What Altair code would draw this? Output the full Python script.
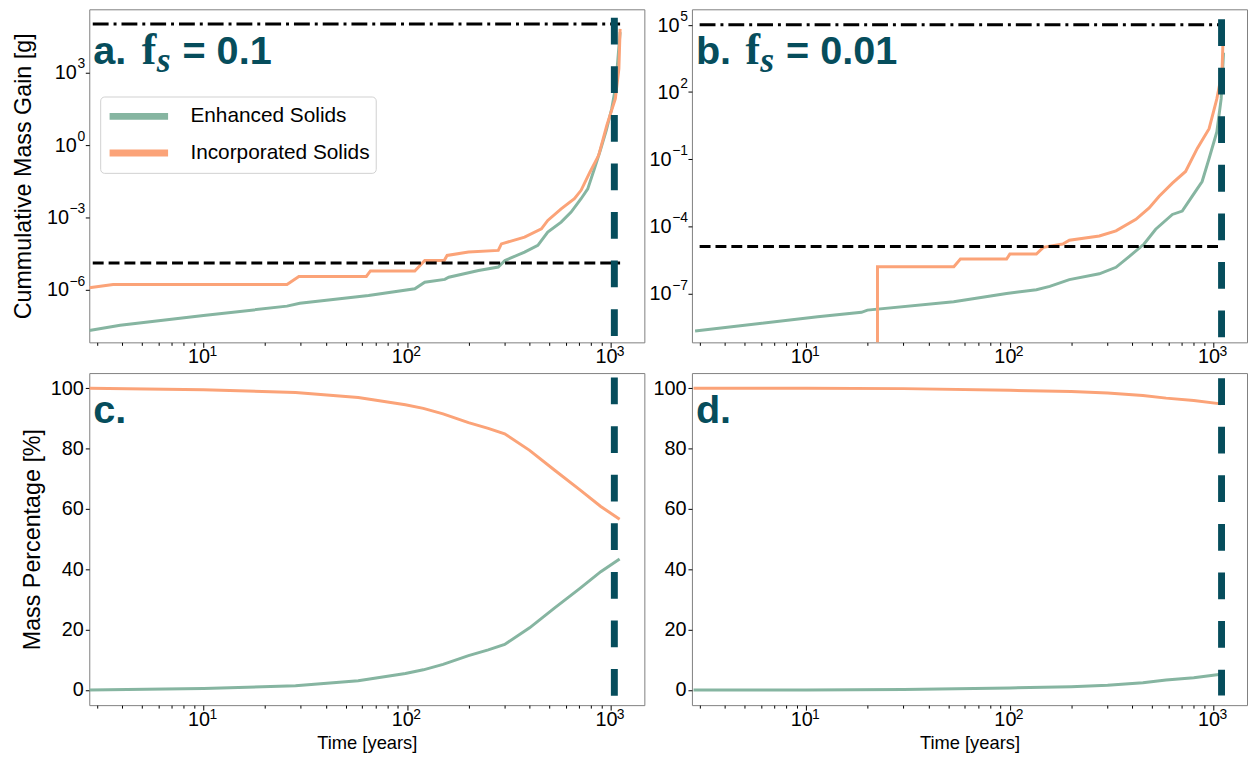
import altair as alt
import pandas as pd

SERIES = ["Enhanced Solids", "Incorporated Solids"]
COLORS = ["#86b5a1", "#fba378"]
ACCENT = "#064d5c"

PANEL_LETTERS = ["a.", "b.", "c.", "d."]
FS_SYMBOL = ["f", "s"]
FS_VALUES = ["= 0.1", "= 0.01"]

# tick positions and labels (base 10, superscript exponent)
TIME_MAJOR = [10, 100, 1000]
TIME_EXPONENTS = ["1", "2", "3"]
TIME_MINOR = [3, 4, 5, 6, 7, 8, 9, 20, 30, 40, 50, 60, 70, 80, 90,
              200, 300, 400, 500, 600, 700, 800, 900]
TIME_DOMAIN = [2.75, 1460]

MASS_A_TICKS = [1e3, 1e0, 1e-3, 1e-6]
MASS_A_EXPONENTS = ["3", "0", "−3", "−6"]
MASS_A_DOMAIN_EXP = [-8.19, 5.61]
MASS_B_TICKS = [1e5, 1e2, 1e-1, 1e-4, 1e-7]
MASS_B_EXPONENTS = ["5", "2", "−1", "−4", "−7"]
MASS_B_DOMAIN_EXP = [-9.18, 5.69]
PCT_TICKS = [0, 20, 40, 60, 80, 100]
PCT_DOMAIN = [-5, 105]

MASS_CEILING = 1e5
MASS_THRESHOLD = 1.25e-5

# panel a (f_s = 0.1): cumulative mass gain, log10 of grams
A_ENH_T = [2.75, 3.9, 10, 25.7, 29.7, 64.6, 109, 122, 153, 160, 224, 280, 302,
           377, 438, 490, 570, 638, 714, 770, 830, 890, 950, 1010, 1055, 1110]
A_ENH_LOGM = [-7.70, -7.48, -7.08, -6.69, -6.57, -6.25, -5.97, -5.70, -5.58, -5.49,
              -5.21, -5.07, -4.80, -4.45, -4.17, -3.62, -3.21, -2.79, -2.24, -1.83,
              -1.0, -0.2, 0.6, 1.5, 2.4, 4.66]
A_INC_T = [2.75, 3.6, 25.7, 29.4, 63, 66, 109, 122, 152, 157, 200, 280, 290,
           377, 456, 490, 570, 662, 714, 790, 871, 955, 1052, 1095, 1110]
A_INC_LOGM = [-5.93, -5.79, -5.79, -5.46, -5.46, -5.23, -5.23, -4.80, -4.80, -4.59,
              -4.45, -4.38, -4.11, -3.83, -3.49, -3.14, -2.66, -2.24, -1.89, -1.13,
              -0.44, 0.80, 1.91, 3.15, 4.80]

# panel b (f_s = 0.01)
B_ENH_T = [2.85, 11.4, 18.7, 20, 53, 96.4, 135, 157, 196, 275, 332, 385, 456,
           520, 628, 702, 785, 879, 951, 1038, 1090, 1120]
B_ENH_LOGM = [-8.67, -8.04, -7.84, -7.74, -7.37, -7.0, -6.83, -6.68, -6.38, -6.12,
              -5.83, -5.35, -4.79, -4.13, -3.47, -3.32, -2.66, -2.0, -0.97, 0.21,
              1.69, 3.75]
# first value: effectively zero before the first incorporation event
B_INC_T = [22.4, 22.4, 53.1, 57.2, 96.4, 100, 135, 146, 182, 196, 275, 332, 416,
           483, 541, 628, 729, 832, 951, 1038, 1100, 1120]
B_INC_LOGM = [-12, -5.80, -5.80, -5.46, -5.46, -5.24, -5.24, -4.94, -4.79, -4.62,
              -4.43, -4.20, -3.69, -3.18, -2.66, -2.07, -1.55, -0.52, 0.36, 1.69,
              2.87, 5.0]

# panel c (f_s = 0.1): mass percentage
C_T = [2.75, 10, 28.3, 57.5, 98, 120, 150, 200, 250, 301, 399, 530, 705, 892, 1104]
C_INC_PCT = [100.0, 99.5, 98.6, 96.9, 94.5, 93.3, 91.5, 88.6, 86.7, 84.9, 79.4,
             72.8, 66.3, 60.8, 56.6]
C_ENH_PCT = [0.0, 0.5, 1.4, 3.1, 5.5, 6.7, 8.5, 11.4, 13.3, 15.1, 20.6,
             27.2, 33.7, 39.2, 43.4]

# panel d (f_s = 0.01)
D_T = [2.8, 10, 30, 100, 200, 302, 450, 585, 800, 1086]
D_INC_PCT = [100.0, 99.95, 99.85, 99.3, 98.9, 98.4, 97.6, 96.7, 95.9, 94.8]
D_ENH_PCT = [0.0, 0.05, 0.15, 0.7, 1.1, 1.6, 2.4, 3.3, 4.1, 5.2]

# reference lines
END_TIME = [1040, 1095]
A_VLINE_EXP = [5.26, -8.12]
B_VLINE_EXP = [5.25, -8.99]
C_VLINE_PCT = [103.5, -2.1]
D_VLINE_PCT = [103.3, -1.8]
A_HSPAN = [2.86, 1110]
B_HSPAN = [3.0, 1100]

W, H_TOP, H_BOT = 560, 336, 335
FONT = "Liberation Sans"
LABEL_SIZE = 20
SUP_SIZE = 14


def time_axis(title=None):
    kw = dict(
        values=sorted(TIME_MINOR + TIME_MAJOR),
        labels=False,
        tickSize={"condition": {"test": "indexof([10, 100, 1000], datum.value) >= 0", "value": 5},
                  "value": 3},
        title=title,
    )
    if title:
        kw.update(titleFontSize=18.5, titlePadding=23)
    return alt.Axis(**kw)


x_scale = alt.Scale(type="log", domain=TIME_DOMAIN, nice=False)


def curves_df(pairs):
    rows = []
    i = 0
    for name, ts, vs in pairs:
        for t, v in zip(ts, vs):
            rows.append({"t": t, "v": v, "series": name, "idx": i})
            i += 1
    return pd.DataFrame(rows)


def text_layer(txt, x, y, font=FONT, size=40, style="normal"):
    return alt.Chart(pd.DataFrame({"txt": [txt]})).mark_text(
        font=font, fontSize=size, fontWeight="bold", fontStyle=style, color=ACCENT,
        align="left", baseline="alphabetic"
    ).encode(text="txt:N", x=alt.value(x), y=alt.value(y))


def x_labels(X, height):
    df = pd.DataFrame({"t": TIME_MAJOR, "base": ["10"] * len(TIME_MAJOR), "exp": TIME_EXPONENTS})
    base = alt.Chart(df).mark_text(
        font=FONT, fontSize=LABEL_SIZE, align="center", baseline="alphabetic", dx=-4.5, color="black"
    ).encode(x=X("t:Q"), y=alt.value(height + 21), text="base:N")
    sup = alt.Chart(df).mark_text(
        font=FONT, fontSize=SUP_SIZE, align="left", baseline="alphabetic", dx=6, color="black"
    ).encode(x=X("t:Q"), y=alt.value(height + 14), text="exp:N")
    return [base, sup]


def y_labels(Y, ticks, exps):
    df = pd.DataFrame({"v": ticks, "base": ["10"] * len(ticks), "exp": exps})
    pos = df[~df.exp.str.startswith("−")]
    neg = df[df.exp.str.startswith("−")]
    out = []
    for part, bx in ((pos, -12.5), (neg, -20.5)):
        out.append(alt.Chart(part).mark_text(
            font=FONT, fontSize=LABEL_SIZE, align="right", baseline="alphabetic", dy=7, color="black"
        ).encode(x=alt.value(bx), y=Y("v:Q"), text="base:N"))
    out.append(alt.Chart(df).mark_text(
        font=FONT, fontSize=SUP_SIZE, align="right", baseline="alphabetic", dy=-4, color="black"
    ).encode(x=alt.value(-4), y=Y("v:Q"), text="exp:N"))
    return out


def panel(df, y_scale, y_axis, x_axis, legend, vt, vext, hspan, labels, height, yticks=None):
    color = alt.Color("series:N", scale=alt.Scale(domain=SERIES, range=COLORS), legend=legend)
    X = lambda f: alt.X(f, scale=x_scale, axis=x_axis)
    Y = lambda f: alt.Y(f, scale=y_scale, axis=y_axis)
    lines = alt.Chart(df).mark_line(strokeWidth=3, clip=True).encode(
        x=X("t:Q"), y=Y("v:Q"), color=color, order="idx:Q",
    )
    layers = [lines]
    if hspan is not None:
        hdf = pd.DataFrame({"t": [hspan[0], hspan[0]], "t2": [hspan[1], hspan[1]],
                            "v": [MASS_CEILING, MASS_THRESHOLD], "kind": ["ceiling", "threshold"]})
        layers.append(alt.Chart(hdf[hdf.kind == "ceiling"]).mark_rule(
            color="black", strokeWidth=3, strokeDash=[16, 5, 3, 5], clip=True
        ).encode(x=X("t:Q"), x2="t2:Q", y=Y("v:Q")))
        layers.append(alt.Chart(hdf[hdf.kind == "threshold"]).mark_rule(
            color="black", strokeWidth=3, strokeDash=[11, 5], clip=True
        ).encode(x=X("t:Q"), x2="t2:Q", y=Y("v:Q")))
    vdf = pd.DataFrame({"t": [vt], "v": [vext[0]], "v2": [vext[1]]})
    layers.append(alt.Chart(vdf).mark_rule(
        color=ACCENT, strokeWidth=7, strokeDash=[27, 22], clip=True
    ).encode(x=X("t:Q"), y=Y("v:Q"), y2="v2:Q"))
    layers.extend(x_labels(X, height))
    if yticks is not None:
        layers.extend(y_labels(Y, *yticks))
    layers.extend(labels)
    return alt.layer(*layers).properties(width=W, height=height)


mass_legend = alt.Legend(
    orient="none", legendX=11, legendY=88, title=None,
    symbolType="stroke", symbolSize=3481, symbolStrokeWidth=7,
    labelFont=FONT, labelFontSize=21, labelColor="black", labelOffset=19,
    labelLimit=400, rowPadding=9, clipHeight=28, padding=6,
    strokeColor="#d0d0d0", fillColor="white", cornerRadius=4,
)

ya_scale = alt.Scale(type="log", domain=[10 ** MASS_A_DOMAIN_EXP[0], 10 ** MASS_A_DOMAIN_EXP[1]], nice=False)
yb_scale = alt.Scale(type="log", domain=[10 ** MASS_B_DOMAIN_EXP[0], 10 ** MASS_B_DOMAIN_EXP[1]], nice=False)
yp_scale = alt.Scale(domain=PCT_DOMAIN, nice=False, zero=False)

ya_axis = alt.Axis(values=MASS_A_TICKS, labels=False, title="Cummulative Mass Gain [g]",
                   tickSize=4, titlePadding=50)
yb_axis = alt.Axis(values=MASS_B_TICKS, labels=False, title=None, tickSize=4)
yc_axis = alt.Axis(values=PCT_TICKS, title="Mass Percentage [%]", tickSize=4, titlePadding=6)
yd_axis = alt.Axis(values=PCT_TICKS, title=None, tickSize=4)

df_a = curves_df([(SERIES[0], A_ENH_T, [10 ** v for v in A_ENH_LOGM]),
                  (SERIES[1], A_INC_T, [10 ** v for v in A_INC_LOGM])])
df_b = curves_df([(SERIES[0], B_ENH_T, [10 ** v for v in B_ENH_LOGM]),
                  (SERIES[1], B_INC_T, [10 ** v for v in B_INC_LOGM])])
df_c = curves_df([(SERIES[0], C_T, C_ENH_PCT), (SERIES[1], C_T, C_INC_PCT)])
df_d = curves_df([(SERIES[0], D_T, D_ENH_PCT), (SERIES[1], D_T, D_INC_PCT)])


def fs_labels(letter, value, d):
    return [
        text_layer(letter, 4, 55),
        text_layer(FS_SYMBOL[0], 53 + d, 55, font="Liberation Serif", size=44),
        text_layer(FS_SYMBOL[1], 68 + d, 63, font="Liberation Serif", size=36, style="italic"),
        text_layer(value, 94 + d, 55),
    ]


pa = panel(df_a, ya_scale, ya_axis, time_axis(), mass_legend, END_TIME[0],
           [10 ** v for v in A_VLINE_EXP], A_HSPAN,
           fs_labels(PANEL_LETTERS[0], FS_VALUES[0], 0), H_TOP,
           yticks=(MASS_A_TICKS, MASS_A_EXPONENTS))
pb = panel(df_b, yb_scale, yb_axis, time_axis(), None, END_TIME[1],
           [10 ** v for v in B_VLINE_EXP], B_HSPAN,
           fs_labels(PANEL_LETTERS[1], FS_VALUES[1], 1), H_TOP,
           yticks=(MASS_B_TICKS, MASS_B_EXPONENTS))
pc = panel(df_c, yp_scale, yc_axis, time_axis("Time [years]"), None, END_TIME[0],
           C_VLINE_PCT, None, [text_layer(PANEL_LETTERS[2], 4, 50)], H_BOT)
pd_ = panel(df_d, yp_scale, yd_axis, time_axis("Time [years]"), None, END_TIME[1],
            D_VLINE_PCT, None, [text_layer(PANEL_LETTERS[3], 4, 50)], H_BOT)

chart = alt.concat(
    pa, pb, pc, pd_, columns=2, spacing={"row": 31, "column": 48}, bounds="flush"
).resolve_scale(
    x="independent", y="independent", color="independent"
).properties(
    padding={"left": 3, "top": -3, "right": 0, "bottom": 0}
).configure_view(
    stroke="#808080", strokeWidth=1
).configure_axis(
    labelFont=FONT, labelFontSize=LABEL_SIZE, labelColor="black",
    titleFont=FONT, titleFontSize=23.5, titleFontWeight="normal", titleColor="black",
    tickColor="black", domain=False, grid=False, labelPadding=2,
)

chart.save("out.html", embed_options={"renderer": "svg", "actions": False})
